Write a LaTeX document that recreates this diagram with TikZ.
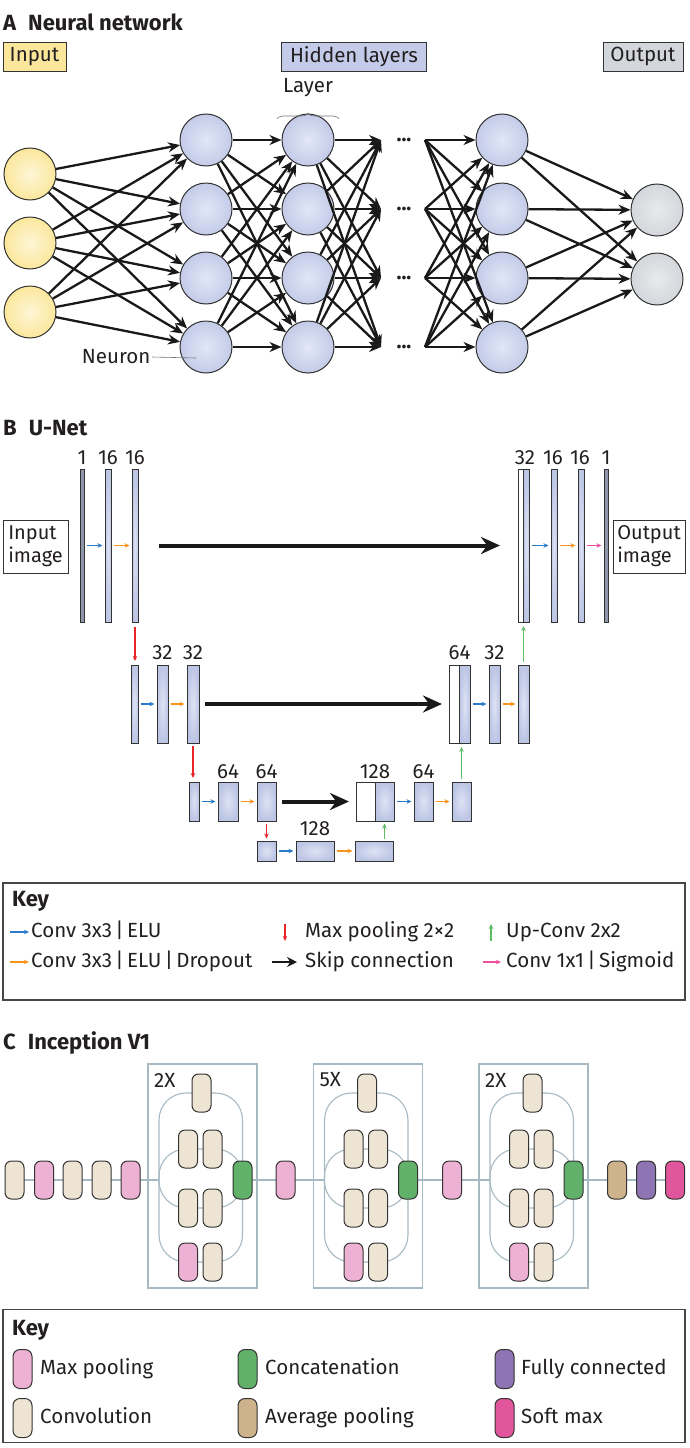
\documentclass[tikz,border=0pt]{standalone}
\usepackage{fontspec}
\setmainfont{Fira Sans}
\usetikzlibrary{arrows.meta,decorations.pathreplacing}
\pgfdeclarelayer{bg}
\pgfsetlayers{bg,main}
\definecolor{txt}{HTML}{231F20}
\definecolor{edge}{HTML}{333333}
\definecolor{yel}{HTML}{FBE79C}
\definecolor{yelL}{HTML}{FEF6D6}
\definecolor{hid}{HTML}{C3CBE8}
\definecolor{hidL}{HTML}{E2E7F6}
\definecolor{outc}{HTML}{D3D7DB}
\definecolor{outL}{HTML}{E8EAEC}
\definecolor{ubar}{HTML}{BCC5E4}
\definecolor{ubarL}{HTML}{DEE3F4}
\definecolor{udark}{HTML}{8E96AA}
\definecolor{cblue}{HTML}{2B7BCB}
\definecolor{corange}{HTML}{F7941D}
\definecolor{cpink}{HTML}{EC4F9C}
\definecolor{cred}{HTML}{E8262A}
\definecolor{cgreen}{HTML}{5DBB63}
\definecolor{iline}{HTML}{A7BAC3}
\definecolor{iconv}{HTML}{EEE4D4}
\definecolor{ipool}{HTML}{EDB1D3}
\definecolor{iconc}{HTML}{62B16B}
\definecolor{iavg}{HTML}{CDB28B}
\definecolor{ifc}{HTML}{8E74B2}
\definecolor{ism}{HTML}{E0559B}
\newcommand\mkbar[6]{\node[#2, minimum width=#5pt, minimum height=#6pt] (#1) at (#3,#4) {};}
\begin{document}
\begin{tikzpicture}[x=1pt,y=-1pt,
  every node/.style={text=txt, font=\fontsize{20.5}{23.5}\selectfont, inner sep=1.5pt},
  ttl/.style={font=\fontsize{22}{26}\selectfont\bfseries, anchor=west, inner sep=0pt},
  lab/.style={draw=edge, line width=0.9pt, minimum height=29pt, inner sep=0pt},
  neuron/.style={circle, draw=edge, line width=1pt, minimum size=52pt, inner sep=0pt},
  inn/.style={neuron, inner color=yelL, outer color=yel},
  hidn/.style={neuron, inner color=hidL, outer color=hid},
  outn/.style={neuron, inner color=outL, outer color=outc},
  arr/.style={draw=black!90, line width=2.3pt, -{Stealth[length=12pt,width=10pt]}},
  ubox/.style={rectangle, draw=edge, line width=0.8pt, inner sep=0pt, outer sep=0pt},
  bar/.style={ubox, inner color=ubarL, outer color=ubar},
  wbar/.style={ubox, fill=white},
  dbar/.style={ubox, fill=udark},
  sarr/.style={line width=1.1pt, -{Stealth[length=5pt,width=4.5pt]}, shorten <=2.5pt, shorten >=2.5pt},
  skip/.style={draw=black!90, line width=4pt, -{Stealth[length=19pt,width=17pt]}},
  imgbox/.style={draw=edge, line width=0.9pt, minimum height=53pt, inner sep=0pt, align=left, font=\fontsize{20}{23}\selectfont},
  keybox/.style={draw=edge!90, line width=1.2pt, minimum width=682pt, inner sep=0pt},
  ktxt/.style={anchor=west, inner sep=0pt, text height=14pt, text depth=4pt},
  inc/.style={rectangle, rounded corners=6.5pt, draw=edge, line width=1pt, minimum width=19pt, minimum height=38pt, inner sep=0pt},
  conv/.style={inc, fill=iconv},
  pool/.style={inc, fill=ipool},
  conc/.style={inc, fill=iconc},
  avgp/.style={inc, fill=iavg},
  fcn/.style={inc, fill=ifc},
  smx/.style={inc, fill=ism},
  modbox/.style={draw=iline, line width=1.2pt, minimum width=109pt, minimum height=224pt, inner sep=0pt},
  iln/.style={draw=iline, line width=1.1pt}
]
\useasboundingbox (0,0) rectangle (690,1448);

% ================= A =================
\node[ttl] (titleA) at (3,22) {A\hspace{12pt}Neural network};
\node[lab, fill=yel, minimum width=63pt] (labIn) at (34.5,56.5) {Input};
\node[lab, fill=hid, minimum width=145pt] (labHid) at (354,56.5) {Hidden layers};
\node[lab, fill=outc, minimum width=80pt] (labOut) at (643,56.5) {Output};

\foreach \i/\y in {1/174,2/243,3/312} \node[inn] (in\i) at (30,\y) {};
\foreach \j/\y in {1/140,2/209,3/278,4/347} {
  \node[hidn] (ha\j) at (206,\y) {};
  \node[hidn] (hb\j) at (308,\y) {};
  \node[hidn] (hc\j) at (502,\y) {};
  \coordinate (dl\j) at (381,\y);
  \coordinate (dr\j) at (425,\y);
  \node[inner sep=0pt] (dt\j) at (404,\y) {\textbf{...}};
}
\node[outn] (o1) at (657,210) {};
\node[outn] (o2) at (657,279) {};

\foreach \i in {1,2,3} \foreach \j in {1,...,4} \draw[arr] (in\i) -- (ha\j);
\foreach \i in {1,...,4} \foreach \j in {1,...,4} {
  \draw[arr] (ha\i) -- (hb\j);
  \draw[arr] (hb\i) -- (dl\j);
  \draw[arr] (dr\i) -- (hc\j);
}
\foreach \i in {1,...,4} \foreach \j in {1,2} \draw[arr] (hc\i) -- (o\j);

\node (layer) at (308,88) {Layer};
\coordinate (brL) at (277,119);
\coordinate (brR) at (339,119);
\draw[decorate, decoration={brace, amplitude=6pt}, draw=black!55, line width=0.6pt] (brL) -- (brR);
\node[anchor=east] (neu) at (152,357) {Neuron};
\coordinate (neuPt) at (196,358);
\draw[black!55, line width=0.6pt] (neu.east) -- (neuPt);

% ================= B =================
\node[ttl] (titleB) at (3,428) {B\hspace{12pt}U-Net};
\node[imgbox, minimum width=65pt] (inImg) at (35.5,546.5) {Input\\image};
\node[imgbox, minimum width=72pt] (outImg) at (649,546.5) {Output\\image};

% level 1
\mkbar{b1}{dbar}{82.5}{545.5}{4}{153}
\mkbar{b2}{bar}{108}{545.5}{6}{153}
\mkbar{b3}{bar}{135}{545.5}{6}{153}
\mkbar{r1w}{wbar}{520.75}{545.5}{5.5}{153}
\mkbar{r1b}{bar}{526.5}{545.5}{6}{153}
\mkbar{r2}{bar}{554}{545.5}{6}{153}
\mkbar{r3}{bar}{581}{545.5}{6}{153}
\mkbar{r4}{dbar}{606}{545.5}{4}{153}
% level 2
\mkbar{c1}{bar}{134.5}{704}{7}{78}
\mkbar{c2}{bar}{162.5}{704}{11}{78}
\mkbar{c3}{bar}{193}{704}{12}{78}
\mkbar{d1w}{wbar}{454.25}{704}{10.5}{78}
\mkbar{d1b}{bar}{464.75}{704}{10.5}{78}
\mkbar{d2}{bar}{494.5}{704}{11}{78}
\mkbar{d3}{bar}{523.5}{704}{11}{78}
% level 3
\mkbar{e1}{bar}{194}{801.5}{10}{39}
\mkbar{e2}{bar}{228}{801.5}{20}{39}
\mkbar{e3}{bar}{266.5}{801.5}{19}{39}
\mkbar{f1w}{wbar}{365.5}{801.5}{19}{39}
\mkbar{f1b}{bar}{384.5}{801.5}{19}{39}
\mkbar{f2}{bar}{423.5}{801.5}{19}{39}
\mkbar{f3}{bar}{461.5}{801.5}{19}{39}
% level 4
\mkbar{g1}{bar}{266.5}{851}{19}{20}
\mkbar{g2}{bar}{315}{851}{38}{20}
\mkbar{g3}{bar}{374}{851}{38}{20}

% labels
\foreach \x/\t/\y [count=\n] in {82/1/464, 108/16/464, 135/16/464, 525/32/464, 553/16/464, 580/16/464, 606/1/464,
  162.5/32/659, 193/32/659, 459.5/64/659, 494.5/32/659,
  228/64/778, 266.5/64/778, 375/128/778, 423.5/64/778, 315/128/835}
  \node[anchor=base, inner sep=0pt] (nl\n) at (\x,\y) {\t};

% horizontal small arrows
\draw[sarr, cblue] (b1) -- (b2);
\draw[sarr, corange] (b2) -- (b3);
\draw[sarr, cblue] (r1b) -- (r2);
\draw[sarr, corange] (r2) -- (r3);
\draw[sarr, cpink] (r3) -- (r4);
\draw[sarr, cblue] (c1) -- (c2);
\draw[sarr, corange] (c2) -- (c3);
\draw[sarr, cblue] (d1b) -- (d2);
\draw[sarr, corange] (d2) -- (d3);
\draw[sarr, cblue] (e1) -- (e2);
\draw[sarr, corange] (e2) -- (e3);
\draw[sarr, cblue] (f1b) -- (f2);
\draw[sarr, corange] (f2) -- (f3);
\draw[sarr, cblue] (g1) -- (g2);
\draw[sarr, corange] (g2) -- (g3);
% pooling (red) and up-conv (green)
\draw[sarr, cred, shorten <=5pt, shorten >=4pt] (b3.south) -- (b3.south |- c1.north);
\draw[sarr, cred, shorten <=3pt, shorten >=4pt] (c3.south) -- (c3.south |- e1.north);
\draw[sarr, cred] (e3.south) -- (g1.north);
\draw[sarr, cgreen, shorten <=3pt, shorten >=4pt] (d3.north) -- (d3.north |- r1b.south);
\draw[sarr, cgreen, shorten <=3pt, shorten >=4pt] (f3.north) -- (f3.north |- d1b.south);
\draw[sarr, cgreen] (g3.north -| f1b.south) -- (f1b.south);
% skip connections
\draw[skip, shorten <=21pt, shorten >=18pt] (b3) -- (r1w);
\draw[skip, shorten <=6pt, shorten >=7pt] (c3) -- (d1w);
\draw[skip, shorten <=6pt, shorten >=7pt] (e3) -- (f1w);

% key B
\node[keybox, minimum height=117pt] (keyB) at (344,941.5) {};
\node[ttl] (keyBt) at (12,901) {Key};
\coordinate (kb1a) at (10,932); \coordinate (kb1b) at (29,932);
\draw[sarr, cblue, shorten <=0pt, shorten >=0pt] (kb1a) -- (kb1b);
\node[ktxt] (kt1) at (31,932) {Conv 3x3\,|\,ELU};
\coordinate (kb2a) at (10,962); \coordinate (kb2b) at (29,962);
\draw[sarr, corange, shorten <=0pt, shorten >=0pt] (kb2a) -- (kb2b);
\node[ktxt] (kt2) at (31,962) {Conv 3x3\,|\,ELU\,|\,Dropout};
\coordinate (kb3a) at (285,924); \coordinate (kb3b) at (285,941);
\draw[sarr, cred, shorten <=0pt, shorten >=0pt] (kb3a) -- (kb3b);
\node[ktxt] (kt3) at (305,932) {Max pooling 2×2};
\coordinate (kb4a) at (272,962); \coordinate (kb4b) at (297,962);
\draw[draw=black!90, line width=2.5pt, -{Stealth[length=10pt,width=10pt]}] (kb4a) -- (kb4b);
\node[ktxt] (kt4) at (305,962) {Skip connection};
\coordinate (kb5a) at (491,941); \coordinate (kb5b) at (491,924);
\draw[sarr, cgreen, shorten <=0pt, shorten >=0pt] (kb5a) -- (kb5b);
\node[ktxt] (kt5) at (506,932) {Up-Conv 2x2};
\coordinate (kb6a) at (483,962); \coordinate (kb6b) at (501,962);
\draw[sarr, cpink, shorten <=0pt, shorten >=0pt] (kb6a) -- (kb6b);
\node[ktxt] (kt6) at (506,962) {Conv 1x1\,|\,Sigmoid};

% ================= C =================
\node[ttl] (titleC) at (3,1043) {C\hspace{12pt}Inception V1};
\node[conv] (s1) at (14.5,1180) {};
\node[pool] (s2) at (44,1180) {};
\node[conv] (s3) at (72.5,1180) {};
\node[conv] (s4) at (101.5,1180) {};
\node[pool] (s5) at (130.5,1180) {};
\node[pool] (p1) at (285.5,1180) {};
\node[pool] (p2) at (452,1180) {};
\node[avgp] (t1) at (617,1180) {};
\node[fcn] (t2) at (646,1180) {};
\node[smx] (t3) at (675,1180) {};

\foreach \k/\L/\rep in {1/148/2X, 2/313.5/5X, 3/479/2X} {
  \node[modbox] (m\k-box) at ({\L+54.5},1176) {};
  \node[anchor=west, inner sep=0pt] (m\k-rep) at ({\L+6},1080) {\rep};
  \coordinate (m\k-in) at ({\L+11},1180);
  \node[conv] (m\k-top) at ({\L+53.5},1093) {};
  \node[conv] (m\k-a1) at ({\L+40},1149) {};
  \node[conv] (m\k-a2) at ({\L+64.5},1149) {};
  \node[conv] (m\k-b1) at ({\L+40},1208) {};
  \node[conv] (m\k-b2) at ({\L+64.5},1208) {};
  \node[pool] (m\k-c1) at ({\L+40},1262) {};
  \node[conv] (m\k-c2) at ({\L+64.5},1262) {};
  \node[conc] (m\k-cat) at ({\L+94.5},1180) {};
  \begin{pgfonlayer}{bg}
    \draw[iln, rounded corners=27pt] (m\k-in |- m\k-top.center) rectangle (m\k-cat.center |- m\k-c1.center);
    \draw[iln, rounded corners=27pt] (m\k-in |- m\k-a1.center) rectangle (m\k-cat.center |- m\k-b1.center);
  \end{pgfonlayer}
}
\begin{pgfonlayer}{bg}
  \draw[iln] (s1.center) -- (s5.center) -- (m1-in);
  \draw[iln] (m1-cat.center) -- (p1.center) -- (m2-in);
  \draw[iln] (m2-cat.center) -- (p2.center) -- (m3-in);
  \draw[iln] (m3-cat.center) -- (t3.center);
\end{pgfonlayer}

% key C
\node[keybox, minimum height=133pt] (keyC) at (344,1376) {};
\node[ttl] (keyCt) at (12,1330) {Key};
\node[pool, minimum height=39pt, rounded corners=7pt] (kc1) at (22.5,1369) {};
\node[ktxt] (kct1) at (40,1369) {Max pooling};
\node[conv, minimum height=39pt, rounded corners=7pt] (kc2) at (22.5,1418) {};
\node[ktxt] (kct2) at (40,1418) {Convolution};
\node[conc, minimum height=39pt, rounded corners=7pt] (kc3) at (247.5,1369) {};
\node[ktxt] (kct3) at (265,1369) {Concatenation};
\node[avgp, minimum height=39pt, rounded corners=7pt] (kc4) at (247.5,1418) {};
\node[ktxt] (kct4) at (265,1418) {Average pooling};
\node[fcn, minimum height=39pt, rounded corners=7pt] (kc5) at (504.5,1369) {};
\node[ktxt] (kct5) at (521,1369) {Fully connected};
\node[smx, minimum height=39pt, rounded corners=7pt] (kc6) at (504.5,1418) {};
\node[ktxt] (kct6) at (521,1418) {Soft max};
\end{tikzpicture}
\end{document}
